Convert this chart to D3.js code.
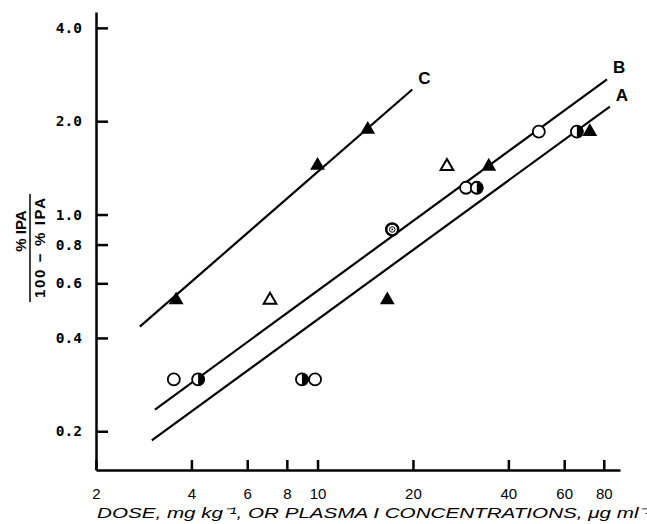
<!DOCTYPE html>
<html>
<head>
<meta charset="utf-8">
<script src="https://cdn.jsdelivr.net/npm/d3@7"></script>
<style>
  body { margin: 0; background: #fff; }
  svg { display: block; }
  .axis path, .axis line { stroke: #000; stroke-width: 2.5; }
  .axis text { fill: #000; }
</style>
</head>
<body>
<div id="chart"></div>
<script>
var width = 647;
var height = 524;

// tick labels
var xTicks = [2, 4, 6, 8, 10, 20, 40, 60, 80];
var yTicks = [0.2, 0.4, 0.6, 0.8, 1.0, 2.0, 4.0];

// points: [dose, ratio]
var filledTri = [[3.58, 0.53], [10.0, 1.44], [14.4, 1.88], [16.6, 0.53], [34.7, 1.43], [72.3, 1.85]];
var openTri = [[7.08, 0.53], [25.6, 1.43]];
var openCircle = [[3.52, 0.294], [9.82, 0.294], [29.4, 1.22], [49.9, 1.85]];
var halfCircle = [[4.2, 0.294], [8.93, 0.294], [31.8, 1.22], [65.8, 1.85]];
var bullseye = [[17.2, 0.895]];

// fitted lines: start and end
var lineA = [[3.0, 0.187], [83.6, 2.23]];
var lineB = [[3.07, 0.235], [81.9, 2.73]];
var lineC = [[2.75, 0.435], [19.9, 2.53]];
var lineLabels = [["A", 83.6, 2.23], ["B", 81.9, 2.73], ["C", 19.9, 2.53]];

var svg = d3.select('#chart')
    .append('svg')
    .attr('width', width)
    .attr('height', height);

var x = d3.scaleLog().domain([2, 90]).range([96, 620]);
var y = d3.scaleLog().domain([0.15, 4.5]).range([470, 12]);

svg.append('g')
    .attr('class', 'axis')
    .attr('transform', 'translate(0,470)')
    .call(d3.axisBottom(x).tickValues(xTicks).tickSize(-10).tickSizeOuter(0)
        .tickPadding(18).tickFormat(d3.format('d')))
    .selectAll('text')
    .style('font-family', 'Liberation Sans Narrow, Liberation Sans, sans-serif')
    .style('font-size', '15px');

svg.append('g')
    .attr('class', 'axis')
    .attr('transform', 'translate(96,0)')
    .call(d3.axisLeft(y).tickValues(yTicks).tickSize(-12).tickSizeOuter(0)
        .tickPadding(14).tickFormat(d3.format('.1f')))
    .selectAll('text')
    .style('font-family', 'DejaVu Sans Mono, monospace')
    .style('font-weight', 'bold')
    .style('font-size', '14.5px');

var line = d3.line()
    .x(function(d){ return x(d[0]); })
    .y(function(d){ return y(d[1]); });

[lineA, lineB, lineC].forEach(function(l){
    svg.append('path')
        .attr('d', line(l))
        .attr('fill', 'none')
        .attr('stroke', '#000')
        .attr('stroke-width', 2.2);
});

svg.selectAll('.lbl')
    .data(lineLabels)
    .enter()
    .append('text')
    .attr('x', function(d){ return x(d[1]) + 6; })
    .attr('y', function(d){ return y(d[2]) - 6; })
    .attr('font-family', 'Liberation Sans Narrow, Liberation Sans, sans-serif')
    .attr('font-weight', 'bold')
    .attr('font-size', '17px')
    .text(function(d){ return d[0]; });

var tri = d3.symbol().type(d3.symbolTriangle);

svg.selectAll('.ftri')
    .data(filledTri)
    .enter()
    .append('path')
    .attr('d', tri.size(95)())
    .attr('transform', function(d){ return 'translate(' + x(d[0]) + ',' + y(d[1]) + ')'; })
    .attr('fill', '#000');

svg.selectAll('.otri')
    .data(openTri)
    .enter()
    .append('path')
    .attr('d', tri.size(70)())
    .attr('transform', function(d){ return 'translate(' + x(d[0]) + ',' + y(d[1]) + ')'; })
    .attr('fill', '#fff')
    .attr('stroke', '#000')
    .attr('stroke-width', 2);

svg.selectAll('.ocirc')
    .data(openCircle)
    .enter()
    .append('circle')
    .attr('cx', function(d){ return x(d[0]); })
    .attr('cy', function(d){ return y(d[1]); })
    .attr('r', 6)
    .attr('fill', '#fff')
    .attr('stroke', '#000')
    .attr('stroke-width', 1.8);

// half filled circles, right half black
var half = svg.selectAll('.hcirc')
    .data(halfCircle)
    .enter()
    .append('g')
    .attr('transform', function(d){ return 'translate(' + x(d[0]) + ',' + y(d[1]) + ')'; });
half.append('circle')
    .attr('r', 6)
    .attr('fill', '#fff')
    .attr('stroke', '#000')
    .attr('stroke-width', 1.8);
half.append('path')
    .attr('d', d3.arc().innerRadius(0).outerRadius(6.5)({startAngle: 0, endAngle: Math.PI}))
    .attr('fill', '#000');

var bull = svg.selectAll('.bull')
    .data(bullseye)
    .enter()
    .append('g')
    .attr('transform', function(d){ return 'translate(' + x(d[0]) + ',' + y(d[1]) + ')'; });
bull.append('circle').attr('r', 6).attr('fill', '#fff').attr('stroke', '#000').attr('stroke-width', 2.5);
bull.append('circle').attr('r', 2.8).attr('fill', 'none').attr('stroke', '#000').attr('stroke-width', 1);
bull.append('circle').attr('r', 0.9).attr('fill', '#000');

// y axis title as a fraction
var yt = svg.append('g')
    .attr('transform', 'translate(30,248) rotate(-90)')
    .attr('font-family', 'Liberation Sans, sans-serif')
    .attr('font-weight', 'bold')
    .attr('font-size', '15px');
yt.append('text')
    .attr('x', 17)
    .attr('y', -4)
    .attr('text-anchor', 'middle')
    .text('% IPA');
yt.append('line')
    .attr('x1', -54).attr('x2', 54)
    .attr('stroke', '#000')
    .attr('stroke-width', 1.5);
yt.append('text')
    .attr('x', 0)
    .attr('y', 15)
    .attr('text-anchor', 'middle')
    .attr('textLength', 100)
    .text('100 \u2212 % IPA');

svg.append('text')
    .attr('x', 97)
    .attr('y', 518)
    .attr('font-family', 'Liberation Sans, sans-serif')
    .attr('font-style', 'italic')
    .attr('font-size', '15.5px')
    .attr('textLength', 555)
    .attr('lengthAdjust', 'spacingAndGlyphs')
    .text('DOSE, mg kg\u207B\u00B9, OR PLASMA I CONCENTRATIONS, \u03BCg ml\u207B\u00B9');
</script>
</body>
</html>
